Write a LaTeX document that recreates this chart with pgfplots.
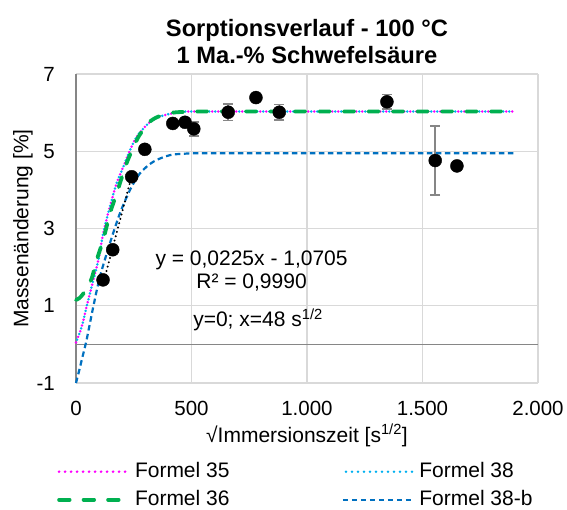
\documentclass[border=0pt]{standalone}
\usepackage{pgfplots}
\pgfplotsset{compat=1.18}
\usepackage{fontspec}
\setmainfont{Liberation Sans}
\definecolor{fmag}{HTML}{FF00FF}
\definecolor{fgreen}{HTML}{00B050}
\definecolor{fcyan}{HTML}{00B0F0}
\definecolor{fblue}{HTML}{0070C0}
\definecolor{gridc}{HTML}{D9D9D9}
\definecolor{axc}{HTML}{868686}
\begin{document}
\begin{tikzpicture}
\begin{axis}[
  at={(0pt,0pt)}, anchor=south west,
  scale only axis, width=462pt, height=309pt,
  xmin=0, xmax=2000, ymin=-1, ymax=7,
  xtick={0,500,1000,1500,2000},
  xticklabels={0,500,1.000,1.500,2.000},
  ytick={-1,1,3,5,7},
  yticklabels={-1,1,3,5,7},
  grid=major,
  major grid style={gridc, line width=1.2pt},
  axis line style={draw=none},
  major tick length=0pt,
  font=\fontsize{20.5}{24}\selectfont,
  xticklabel style={anchor=center, inner sep=0pt, yshift=-25pt},
  yticklabel style={anchor=east, inner sep=0pt, xshift=-21pt},
  xlabel={\strut √Immersionszeit [s\textsuperscript{1/2}]},
  xlabel style={at={(axis description cs:0.5,-0.1748)}, anchor=center, inner sep=0pt, font=\fontsize{21}{24}\selectfont},
  ylabel={Massenänderung [\%]},
  ylabel style={at={(axis description cs:-0.1147,0.5)}, anchor=center, inner sep=0pt, font=\fontsize{21}{24}\selectfont},
  title={Sorptionsverlauf - 100 °C\\1 Ma.-\% Schwefelsäure},
  title style={at={(axis description cs:0.5,1)}, anchor=center, yshift=26.5pt, align=center, font=\bfseries\fontsize{23.7}{27}\selectfont},
  legend columns=2,
  legend cell align=left,
  legend image code/.code={\draw[#1] (0pt,0pt) -- (70pt,0pt);},
  legend style={at={(axis description cs:-0.0411,-0.2557)}, anchor=north west,
    draw=none, fill=none, inner sep=0pt, row sep=9pt,
    nodes={inner sep=0pt, text height=15pt, text depth=4pt},
    font=\fontsize{21}{24}\selectfont,
    /tikz/column 1/.style={column sep=4pt},
    /tikz/column 2/.style={column sep=112pt},
    /tikz/column 3/.style={column sep=5pt}},
  clip=false,
]
% axes lines
\addplot[axc, line width=1.5pt, forget plot] coordinates {(0,-1) (0,7)};
\addplot[axc, line width=1.5pt, forget plot] coordinates {(0,0) (2000,0)};
% Formel 35
\addplot[fmag, line width=2.8pt, line cap=round, dash pattern=on 0pt off 6pt, smooth] coordinates {
(0,0.05) (25,0.46) (46,0.98) (68,1.5) (97,2.19) (118,2.88) (147,3.57) (176,4.17) (205,4.6) (234,5.03) (263,5.38) (306,5.68) (335,5.82) (364,5.9) (407,5.97) (450,6.01) (500,6.03) (1000,6.03) (1500,6.03) (1900,6.03)};
\addlegendentry{Formel 35}
% Formel 38
\addplot[fcyan, line width=2.8pt, line cap=round, dash pattern=on 0pt off 6pt, dash phase=3pt, smooth] coordinates {
(0,0.05) (25,0.46) (46,0.98) (68,1.5) (97,2.19) (118,2.88) (147,3.57) (176,4.17) (205,4.6) (234,5.03) (263,5.38) (306,5.68) (335,5.82) (364,5.9) (407,5.97) (450,6.01) (500,6.03) (1000,6.03) (1500,6.03) (1900,6.03)};
\addlegendentry{Formel 38}
% Formel 36
\addplot[fgreen, line width=3.8pt, line cap=round, dash pattern=on 10.5pt off 14pt, smooth] coordinates {
(0,1.15) (15,1.2) (30,1.3) (45,1.44) (68,1.71) (90,2.19) (118,2.71) (147,3.39) (176,3.91) (219,4.69) (263,5.29) (290,5.55) (320,5.77) (350,5.88) (378,5.94) (420,6.0) (470,6.02) (520,6.03) (1000,6.03) (1500,6.03) (1900,6.03)};
\addlegendentry{Formel 36}
% Formel 38-b
\addplot[fblue, line width=2.2pt, dash pattern=on 5.5pt off 3.5pt, smooth] coordinates {
(0,-1) (12,-0.72) (25,-0.4) (46,0.12) (75,0.98) (104,1.76) (147,2.62) (190,3.39) (234,4.0) (277,4.43) (335,4.73) (407,4.9) (480,4.94) (550,4.95) (1000,4.95) (1500,4.95) (1900,4.95)};
\addlegendentry{Formel 38-b}
% trend line
\addplot[black, line width=2.2pt, line cap=round, dash pattern=on 0pt off 4.5pt, forget plot] coordinates {(117,1.562) (241,4.352)};
% measured data
\addplot[only marks, mark=*, mark size=6.5pt, black, forget plot,
  error bars/.cd, y dir=both, y explicit,
  error bar style={axc, line width=1.5pt}, error mark options={rotate=90, mark size=5pt, axc, line width=1.5pt}]
  coordinates {
(117,1.67) +- (0,0)
(159,2.45) +- (0,0)
(241,4.34) +- (0,0)
(298,5.05) +- (0,0)
(419,5.72) +- (0,0)
(472,5.75) +- (0,0.05)
(510,5.58) +- (0,0.18)
(659,6.01) +- (0,0.21)
(779,6.39) +- (0,0.08)
(880,6.01) +- (0,0.2)
(1346,6.28) +- (0,0.19)
(1555,4.76) +- (0,0.89)
(1649,4.62) +- (0,0)
};
\node[anchor=center, align=center, inner sep=0pt, font=\fontsize{21}{23}\selectfont] at (axis cs:760,1.9) {y = 0,0225x - 1,0705\\R² = 0,9990};
\node[anchor=center, inner sep=0pt, font=\fontsize{21}{23}\selectfont] at (axis cs:788,0.64) {y=0; x=48 s\textsuperscript{1/2}};
\end{axis}
\path[use as bounding box] (-76pt,-124pt) rectangle (491pt,383pt);
\end{tikzpicture}
\end{document}
